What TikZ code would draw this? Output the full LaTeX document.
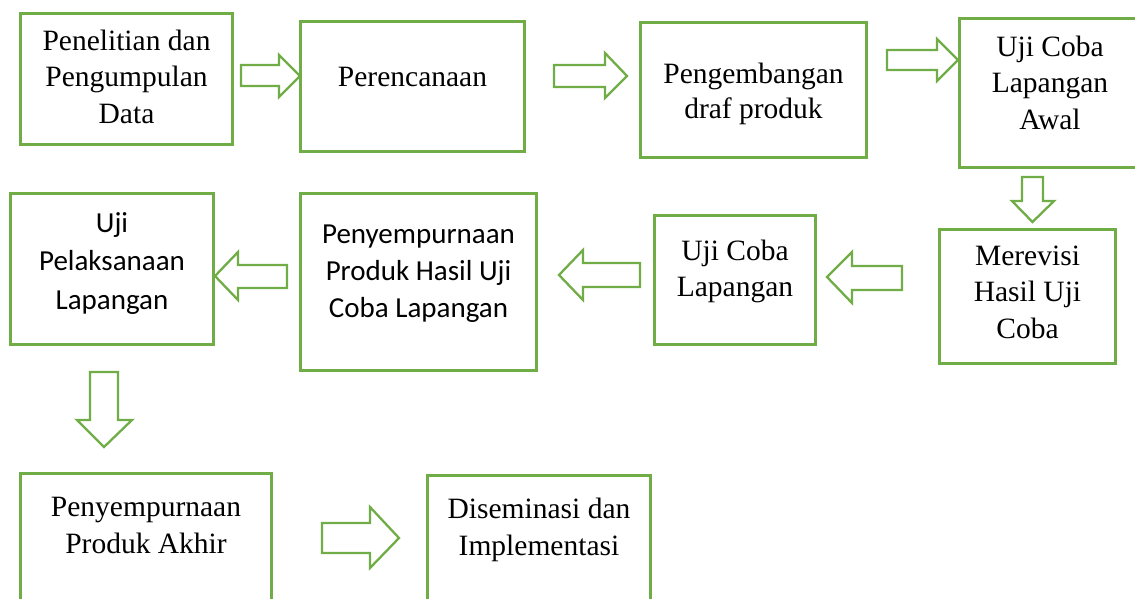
\documentclass[tikz,border=0pt]{standalone}
\usepackage{fontspec}
\setmainfont{Liberation Serif}
\newfontfamily\calfont{Carlito}
\definecolor{accgreen}{RGB}{112,173,71}
\tikzset{
  box/.style={draw=accgreen, line width=2.6pt, rectangle, inner sep=0pt, outer sep=0pt},
  serif/.style={anchor=base, inner sep=0pt, text width=320pt, align=flush center, font=\fontsize{29.5}{36.5}\selectfont},
  sans/.style={anchor=base, inner sep=0pt, text width=320pt, align=flush center, font=\calfont\fontsize{29}{37.5}\selectfont},
  blockarrow/.style={draw=accgreen, line width=2.3pt, line join=miter, fill=white}
}
\begin{document}
\begin{tikzpicture}[x=1pt, y=-1pt]
\useasboundingbox (0,0) rectangle (1135,598);
\clip (0,0) rectangle (1135,598);
% boxes
\node[box, minimum width=212pt, minimum height=131pt] (b1) at (126.5,79) {};
\node[box, minimum width=224pt, minimum height=130pt] (b2) at (412.5,86.5) {};
\node[box, minimum width=226pt, minimum height=135pt] (b3) at (753.5,90) {};
\node[box, minimum width=182.5pt, minimum height=149pt] (b4) at (1050.75,93) {};
\node[box, minimum width=176pt, minimum height=134pt] (b5) at (1027.5,296.5) {};
\node[box, minimum width=161pt, minimum height=129pt] (b6) at (735,280) {};
\node[box, minimum width=236pt, minimum height=177pt] (b7) at (418.5,282) {};
\node[box, minimum width=203pt, minimum height=151pt] (b8) at (112,269) {};
\node[box, minimum width=251pt, minimum height=146.5pt] (b9) at (146,546.75) {};
\node[box, minimum width=223pt, minimum height=144.5pt] (b10) at (539,547.75) {};
% texts
\node[serif] (t1) at (126.5,50) {Penelitian dan\\Pengumpulan\\Data};
\node[serif] (t2) at (412.5,86) {Perencanaan};
\node[serif, font=\fontsize{29.5}{35}\selectfont] (t3) at (753.5,83) {Pengembangan\\draf produk};
\node[serif] (t4) at (1050,56) {Uji Coba\\Lapangan\\Awal};
\node[serif] (t5) at (1027.5,265) {Merevisi\\Hasil Uji\\Coba};
\node[serif] (t6) at (735,260) {Uji Coba\\Lapangan};
\node[sans, font=\calfont\fontsize{29}{37}\selectfont] (t7) at (418.5,243) {Penyempurnaan\\Produk Hasil Uji\\Coba Lapangan};
\node[sans, font=\calfont\fontsize{29}{38.5}\selectfont] (t8) at (112,232) {Uji\\Pelaksanaan\\Lapangan};
\node[serif, font=\fontsize{29.5}{37}\selectfont] (t9) at (146,516) {Penyempurnaan\\Produk Akhir};
\node[serif, font=\fontsize{29.5}{37}\selectfont] (t10) at (539,518) {Diseminasi dan\\Implementasi};
% block arrows
% right arrows
\draw[blockarrow] (241,65) -- (279,65) -- (279,55) -- (300,76) -- (279,97) -- (279,86) -- (241,86) -- cycle;
\draw[blockarrow] (554,65) -- (605,65) -- (605,53) -- (627,76) -- (605,98) -- (605,87) -- (554,87) -- cycle;
\draw[blockarrow] (887,50) -- (937,50) -- (937,39) -- (958,60) -- (937,81) -- (937,70) -- (887,70) -- cycle;
\draw[blockarrow] (322,523) -- (370,523) -- (370,507) -- (399,538) -- (370,568) -- (370,553) -- (322,553) -- cycle;
% down arrows
\draw[blockarrow] (1022,177) -- (1022,201) -- (1012,201) -- (1032.5,222) -- (1054,201) -- (1043,201) -- (1043,177) -- cycle;
\draw[blockarrow] (90,372) -- (90,420) -- (77,420) -- (104,447) -- (132,420) -- (118,420) -- (118,372) -- cycle;
% left arrows
\draw[blockarrow] (902,266) -- (852,266) -- (852,252) -- (827,277) -- (852,303) -- (852,290) -- (902,290) -- cycle;
\draw[blockarrow] (640,263) -- (583,263) -- (583,250) -- (559,275) -- (583,300) -- (583,287) -- (640,287) -- cycle;
\draw[blockarrow] (287,265) -- (238,265) -- (238,252) -- (215,276) -- (238,300) -- (238,288) -- (287,288) -- cycle;
\end{tikzpicture}
\end{document}
